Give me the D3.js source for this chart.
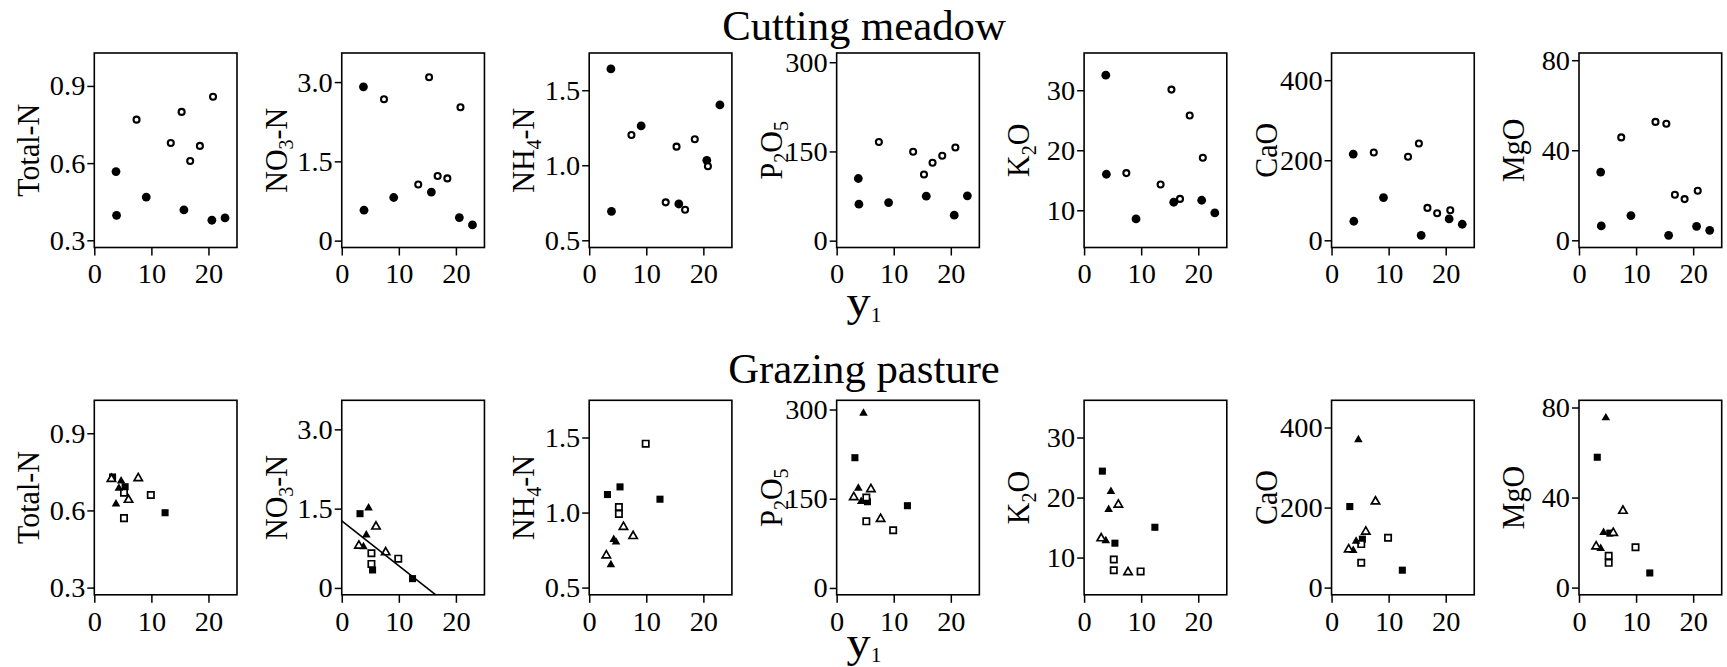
<!DOCTYPE html>
<html><head><meta charset="utf-8">
<script src="https://cdn.jsdelivr.net/npm/d3@7"></script>
<style>
body{margin:0;background:#fff}
svg text{font-family:"Liberation Serif","Times New Roman",serif;fill:#000}
</style>
</head><body>
<svg id="chart" width="1727" height="667"></svg>
<script>
// ---------- data ----------
const variables = ["Total-N","NO3-N","NH4-N","P2O5","K2O","CaO","MgO"];
// label pieces: [text, isSubscript]
const axisLabels = [
  [["Total-N",0]],
  [["NO",0],["3",1],["-N",0]],
  [["NH",0],["4",1],["-N",0]],
  [["P",0],["2",1],["O",0],["5",1]],
  [["K",0],["2",1],["O",0]],
  [["CaO",0]],
  [["MgO",0]]
];
const yDomains = [[0.272,1.028],[-0.13,3.55],[0.452,1.748],[-11.5,315.5],[3.8,36.2],[-18,468],[-3.2,83.2]];
const yTicks = [[0.3,0.6,0.9],[0,1.5,3.0],[0.5,1.0,1.5],[0,150,300],[10,20,30],[0,200,400],[0,40,80]];
const yTickLabels = [["0.3","0.6","0.9"],["0","1.5","3.0"],["0.5","1.0","1.5"],["0","150","300"],["10","20","30"],["0","200","400"],["0","40","80"]];
const xDomain = [0,25];
const xTicks = [0,10,20];
const xTickLabels = ["0","10","20"];
const panelTitles = ["Cutting meadow","Grazing pasture"];

// Cutting meadow (top row): filled circles and open circles
const cutFilledX = [3.8, 3.9, 9.1, 15.7, 20.6, 22.9];
const cutOpenX   = [7.4, 13.4, 15.3, 16.8, 18.5, 20.8];
const cutFilledY = [
  [0.567, 0.397, 0.468, 0.418, 0.378, 0.387],
  [2.91, 0.577, 0.816, 0.918, 0.437, 0.298],
  [1.642, 0.693, 1.262, 0.742, 1.033, 1.402],
  [104.5, 61.3, 64, 74.8, 42.8, 75.3],
  [32.5, 16.0, 8.56, 11.34, 11.67, 9.56],
  [215.5, 47.6, 106.8, 12.5, 53.4, 40.1],
  [30.3, 6.4, 11.0, 2.2, 6.2, 4.45]
];
const cutOpenY = [
  [0.769, 0.678, 0.799, 0.608, 0.667, 0.858],
  [2.676, 1.063, 3.09, 1.222, 1.177, 2.524],
  [1.202, 0.753, 1.124, 0.704, 1.173, 0.993],
  [165.8, 149.5, 111.2, 131, 142.7, 156.7],
  [16.19, 14.3, 30.1, 11.9, 25.8, 18.76],
  [219.5, 208.7, 242, 81, 67.7, 75.2],
  [45.7, 52.6, 51.8, 20.2, 18.3, 22.0]
];

// Grazing pasture (bottom row): four symbol groups
const grzFilledSqX = [3.2, 5.4, 12.4];
const grzOpenSqX   = [5.2, 5.2, 9.9];
const grzFilledTriX = [4.7, 4.3, 3.8];
const grzOpenTriX  = [3.0, 6.0, 7.7];
const grzFilledSqY = [
  [0.730, 0.692, 0.591],[1.405, 0.34, 0.176],[1.12, 1.171, 1.089],[219, 145, 138.3],
  [24.4, 12.4, 15.05],[202.5, 121, 43.5],[57.9, 24.2, 6.5]
];
const grzOpenSqY = [
  [0.570, 0.669, 0.660],[0.655, 0.454, 0.554],[1.037, 0.991, 1.459],[112, 152, 97],
  [9.67, 7.88, 7.7],[108.7, 62, 124.7],[14.1, 11.0, 17.9]
];
const grzFilledTriY = [
  [0.714, 0.686, 0.625],[1.513, 1.0, 0.781],[0.803, 0.821, 0.652],[293.8, 145.5, 167.7],
  [21.0, 18.0, 12.8],[369.6, 116, 92.9],[75.4, 24.5, 17.4]
];
const grzOpenTriY = [
  [0.722, 0.641, 0.725],[0.8, 1.16, 0.673],[0.714, 0.904, 0.843],[152.7, 166, 116],
  [13.2, 18.8, 7.55],[95.4, 139.8, 215],[18.3, 24.3, 34.1]
];
// regression line in grazing NO3-N panel
const regPanel = 1;
const regIntercept = 1.27;
const regSlope = -0.085;

// ---------- layout ----------
const svg = d3.select("#chart");
svg.append("rect").attr("width",1727).attr("height",667).attr("fill","#fff");
const SX = 1.07; // reference glyphs are slightly wide
const FONT = "Liberation Serif, Times New Roman, serif";
const left0 = 94.3, step = 247.45, pw = 142.7, ph = 194.5;
const rowTops = [53, 400.3];
const titleY = [40, 383.3];
const xLabY = [316, 656.5];
const cx = 864;

const x = d3.scaleLinear().domain(xDomain).range([0, pw]);

function drawPanel(row, i){
  const g = svg.append("g").attr("transform",`translate(${left0 + step*i},${rowTops[row]})`);
  const y = d3.scaleLinear().domain(yDomains[i]).range([ph, 0]);

  // y axis
  const ya = g.append("g").call(d3.axisLeft(y).tickValues(yTicks[i])
      .tickFormat((d,k)=>yTickLabels[i][k]).tickSize(7).tickPadding(2));
  ya.attr("font-family",FONT);
  ya.select(".domain").remove();
  ya.selectAll("line").attr("stroke","#000").attr("stroke-width",1.5);
  ya.selectAll("text").attr("font-size",26.5).attr("dy","0.34em").attr("x",0)
    .attr("transform",`translate(-9,0) scale(${SX},1)`);

  // x axis
  const xa = g.append("g").attr("transform",`translate(0,${ph})`)
      .call(d3.axisBottom(x).tickValues(xTicks).tickFormat((d,k)=>xTickLabels[k]).tickSize(8));
  xa.attr("font-family",FONT);
  xa.select(".domain").remove();
  xa.selectAll("line").attr("stroke","#000").attr("stroke-width",1.5);
  xa.selectAll("text").attr("font-size",26.5).attr("dy",0).attr("y",0)
    .attr("transform",`translate(0,35.8) scale(${SX},1)`);

  // box
  g.append("rect").attr("width",pw).attr("height",ph).attr("fill","none")
    .attr("stroke","#000").attr("stroke-width",1.6);

  // y label
  const t = g.append("text").attr("transform",`translate(-55,${ph/2}) rotate(-90) scale(1,${SX})`)
    .attr("text-anchor","middle").attr("font-size",30);
  let sub = false;
  axisLabels[i].forEach(([s,isSub])=>{
    const ts = t.append("tspan").text(s);
    if(isSub && !sub){ ts.attr("font-size",20).attr("dy",6); sub = true; }
    else if(isSub && sub){ ts.attr("font-size",20); }
    else if(!isSub && sub){ ts.attr("dy",-6); sub = false; }
  });

  const pts = g.append("g");
  if(row === 0){
    pts.selectAll(".f").data(cutFilledX.map((v,k)=>[v, cutFilledY[i][k]])).join("circle")
      .attr("cx",d=>x(d[0])).attr("cy",d=>y(d[1])).attr("r",4.4).attr("fill","#000");
    pts.selectAll(".o").data(cutOpenX.map((v,k)=>[v, cutOpenY[i][k]])).join("circle")
      .attr("cx",d=>x(d[0])).attr("cy",d=>y(d[1])).attr("r",3.0)
      .attr("fill","#fff").attr("stroke","#000").attr("stroke-width",2.1);
  } else {
    if(i === regPanel){
      const xEnd = (yDomains[i][0] - regIntercept)/regSlope;
      g.append("line").attr("x1",x(0)).attr("y1",y(regIntercept))
        .attr("x2",x(xEnd)).attr("y2",y(regIntercept + regSlope*xEnd))
        .attr("stroke","#000").attr("stroke-width",1.6);
    }
    const groups = [
      {xs:grzFilledSqX, ys:grzFilledSqY[i], type:d3.symbolSquare, size:50, filled:true},
      {xs:grzOpenSqX, ys:grzOpenSqY[i], type:d3.symbolSquare, size:40, filled:false},
      {xs:grzFilledTriX, ys:grzFilledTriY[i], type:d3.symbolTriangle, size:32, filled:true},
      {xs:grzOpenTriX, ys:grzOpenTriY[i], type:d3.symbolTriangle, size:30, filled:false}
    ];
    groups.forEach(gr=>{
      pts.append("g").selectAll("path").data(gr.xs.map((v,k)=>[v, gr.ys[k]])).join("path")
        .attr("d", d3.symbol().type(gr.type).size(gr.size))
        .attr("transform",d=>`translate(${x(d[0])},${y(d[1])})`)
        .attr("fill", gr.filled ? "#000" : "#fff")
        .attr("stroke", gr.filled ? "none" : "#000")
        .attr("stroke-width", gr.filled ? 0 : 1.7);
    });
  }
}

[0,1].forEach(row=>{
  variables.forEach((v,i)=>drawPanel(row,i));
  svg.append("text").attr("transform",`translate(${cx},${titleY[row]}) scale(1.03,1)`)
    .attr("text-anchor","middle").attr("font-size",41.5).text(panelTitles[row]);
  const xl = svg.append("text").attr("transform",`translate(${cx},${xLabY[row]}) scale(${SX},1)`)
    .attr("text-anchor","middle");
  xl.append("tspan").attr("font-size",45).text("y");
  xl.append("tspan").attr("font-size",20).attr("dy",5.7).text("1");
});
</script>
</body></html>
